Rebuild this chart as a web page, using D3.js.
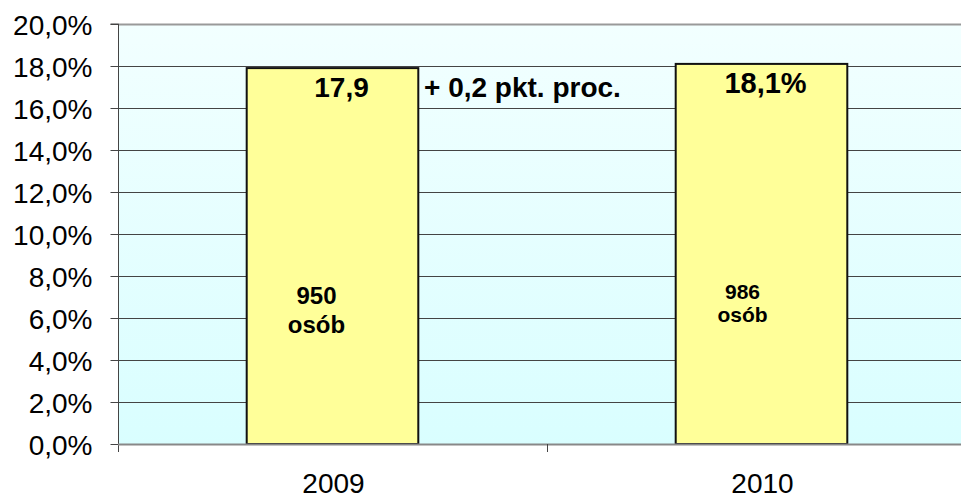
<!DOCTYPE html>
<html><head><meta charset="utf-8">
<script src="https://cdn.jsdelivr.net/npm/d3@7"></script>
<style>body{margin:0;background:#fff}svg{display:block;font-family:"Liberation Sans",Arial,sans-serif}</style>
</head><body>
<svg id="c" width="961" height="499"></svg>
<script>
const categories = ["2009", "2010"];
const values = [17.9, 18.1];
const valueLabels = ["17,9", "18,1%"];
const countLabels = [["950", "osób"], ["986", "osób"]];
const yTicks = [0, 2, 4, 6, 8, 10, 12, 14, 16, 18, 20];
const diffLabel = "+ 0,2 pkt. proc.";

(function () {
const svg = d3.select("#c");
const pL = 118, pR = 976, pT = 24, pB = 444;
const x = d3.scaleBand().domain(categories).range([pL, pR]).paddingInner(0.6).paddingOuter(0.3);
const y = d3.scaleLinear().domain([0, 20]).range([pB, pT]);

const defs = svg.append("defs");
const g = defs.append("linearGradient").attr("id", "bg").attr("x1", 0).attr("y1", 0).attr("x2", 0).attr("y2", 1);
g.append("stop").attr("offset", "0%").attr("stop-color", "#F2FFFF");
g.append("stop").attr("offset", "100%").attr("stop-color", "#D9FEFF");

svg.append("rect").attr("x", pL).attr("y", pT).attr("width", pR - pL).attr("height", pB - pT).attr("fill", "url(#bg)");

// gridlines
svg.append("g").selectAll("line").data(yTicks.filter(d => d > 0 && d < 20)).join("line")
  .attr("x1", pL).attr("x2", pR)
  .attr("y1", d => Math.round(y(d)) + 0.5).attr("y2", d => Math.round(y(d)) + 0.5)
  .attr("stroke", "#444").attr("stroke-width", 1);
// top border
svg.append("line").attr("x1", pL).attr("x2", pR).attr("y1", pT + 0.5).attr("y2", pT + 0.5).attr("stroke", "#999").attr("stroke-width", 2);

// bars
svg.append("g").selectAll("rect").data(values).join("rect")
  .attr("x", (d, i) => x(categories[i]))
  .attr("width", x.bandwidth())
  .attr("y", d => y(d))
  .attr("height", d => y(0) - y(d))
  .attr("fill", "#FFFF99").attr("stroke", "#111").attr("stroke-width", 2);

// y axis
const ya = d3.axisLeft(y).tickValues(yTicks).tickSize(8).tickPadding(18)
  .tickFormat(d => d3.format(".1f")(d).replace(".", ",") + "%");
const yg = svg.append("g").attr("transform", `translate(${pL + 0.5},0)`).call(ya);
yg.attr("font-size", null).attr("font-family", null);
yg.select(".domain").attr("stroke", "#444").attr("d", `M-8,${pT}H0V${pB + 8}`);
yg.selectAll(".tick line").attr("stroke", "#444");
yg.selectAll("text").style("font-size", "28px").attr("fill", "#000").attr("dy", "0.36em");

// x axis
svg.append("line").attr("x1", pL).attr("x2", pR).attr("y1", pB + 0.5).attr("y2", pB + 0.5).attr("stroke", "#888").attr("stroke-width", 2);
const step = x.step();
const sepXs = [pL + step * 1];
svg.append("g").selectAll("line").data(sepXs).join("line")
  .attr("x1", d => Math.round(d) + 0.5).attr("x2", d => Math.round(d) + 0.5)
  .attr("y1", pB).attr("y2", pB + 8).attr("stroke", "#444");
svg.append("g").selectAll("text").data(categories).join("text")
  .attr("x", d => x(d) + x.bandwidth() / 2 + 1).attr("y", 493)
  .attr("text-anchor", "middle").style("font-size", "28px").text(d => d);

// value labels
const vOff = [9, 4];
const vBase = [97, 93];
const vSize = [28, 29];
svg.append("g").selectAll("text").data(valueLabels).join("text")
  .attr("x", (d, i) => x(categories[i]) + x.bandwidth() / 2 + vOff[i])
  .attr("y", (d, i) => vBase[i])
  .attr("text-anchor", "middle").style("font-size", (d, i) => vSize[i] + "px").attr("font-weight", "bold").text(d => d);

svg.append("text").attr("x", 424).attr("y", 97).style("font-size", "28px").attr("font-weight", "bold").text(diffLabel);

// count labels
const cOff = [-16, -19];
const cSize = [24, 21];
const cBase = [[304, 333], [299, 322]];
countLabels.forEach((lines, i) => {
  lines.forEach((t, j) => {
    svg.append("text").attr("x", x(categories[i]) + x.bandwidth() / 2 + cOff[i]).attr("y", cBase[i][j])
      .attr("text-anchor", "middle").style("font-size", cSize[i] + "px").attr("font-weight", "bold").text(t);
  });
});
})();
</script>
</body></html>
